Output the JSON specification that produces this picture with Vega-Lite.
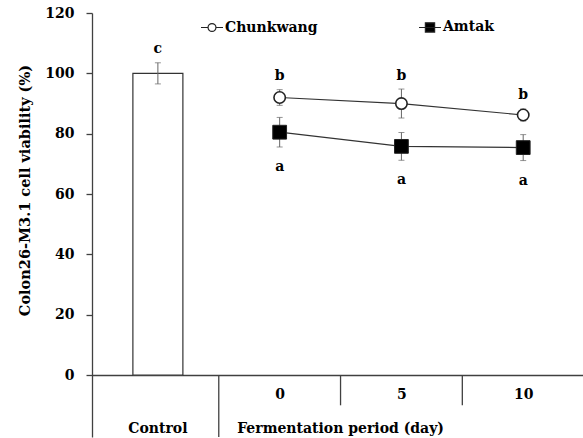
{
  "$schema": "https://vega.github.io/schema/vega-lite/v6.json",
  "width": 491,
  "height": 424,
  "autosize": {"type": "none"},
  "padding": {"left": 92, "top": 13, "right": 0, "bottom": 1},
  "background": "white",
  "config": {
    "view": {"stroke": null},
    "font": "DejaVu Serif",
    "text": {"font": "DejaVu Serif", "fontWeight": "bold", "fontSize": 14, "color": "black"},
    "axis": {
      "labelFont": "DejaVu Serif",
      "labelFontWeight": "bold",
      "labelFontSize": 14,
      "labelColor": "black",
      "titleFont": "DejaVu Serif",
      "titleFontWeight": "bold",
      "titleFontSize": 14.5,
      "titleColor": "black",
      "domainColor": "#404040",
      "domainWidth": 1.3,
      "tickColor": "#404040",
      "tickWidth": 1.3,
      "grid": false
    },
    "legend": {
      "labelFont": "DejaVu Serif",
      "labelFontWeight": "bold",
      "labelFontSize": 14,
      "labelColor": "black"
    }
  },
  "datasets": {
    "main": [
      {"group": "Control", "pos": 0, "mean": 100, "lo": 96.5, "hi": 103.5, "letter": "c"},
      {"group": "Chunkwang", "pos": 1, "mean": 92, "lo": 89.4, "hi": 94.6, "letter": "b"},
      {"group": "Chunkwang", "pos": 2, "mean": 90, "lo": 85.2, "hi": 94.8, "letter": "b"},
      {"group": "Chunkwang", "pos": 3, "mean": 86.2, "lo": 84.2, "hi": 88.2, "letter": "b"},
      {"group": "Amtak", "pos": 1, "mean": 80.5, "lo": 75.6, "hi": 85.4, "letter": "a"},
      {"group": "Amtak", "pos": 2, "mean": 75.8, "lo": 71.2, "hi": 80.4, "letter": "a"},
      {"group": "Amtak", "pos": 3, "mean": 75.4, "lo": 71.1, "hi": 79.7, "letter": "a"}
    ],
    "seps": [
      {"pos": 0.5, "kind": "group"},
      {"pos": 1.5, "kind": "day"},
      {"pos": 2.5, "kind": "day"}
    ],
    "groups": [
      {"label": "Control", "pos": 0},
      {"label": "Fermentation period (day)", "pos": 1.5}
    ]
  },
  "layer": [
    {
      "data": {"name": "main"},
      "transform": [{"filter": "datum.group === 'Control'"}],
      "mark": {"type": "bar", "size": 50, "fill": "white", "stroke": "#333333", "strokeWidth": 1.2},
      "encoding": {
        "x": {
          "field": "pos", "type": "quantitative",
          "scale": {"domain": [-0.5, 3.45], "nice": false, "zero": false},
          "axis": {
            "title": null, "orient": "bottom", "offset": -62,
            "values": [1, 2, 3], "ticks": false, "labelPadding": 12,
            "labelExpr": "datum.value == 1 ? '0' : datum.value == 2 ? '5' : '10'"
          }
        },
        "y": {
          "field": "mean", "type": "quantitative",
          "scale": {"domain": [-20.5, 120], "nice": false, "zero": false},
          "axis": {
            "title": "Colon26-M3.1 cell viability (%)",
            "values": [0, 20, 40, 60, 80, 100, 120],
            "tickSize": 6, "labelPadding": 12,
            "titleX": -67, "titleY": 177, "titleAngle": -90, "titleBaseline": "middle", "titleAlign": "center"
          }
        }
      }
    },
    {
      "data": {"name": "main"},
      "mark": {"type": "rule", "color": "#666666", "strokeWidth": 1},
      "encoding": {
        "x": {"field": "pos", "type": "quantitative"},
        "y": {"field": "lo", "type": "quantitative"},
        "y2": {"field": "hi"}
      }
    },
    {
      "data": {"name": "main"},
      "mark": {"type": "tick", "orient": "horizontal", "size": 6, "thickness": 1, "color": "#666666"},
      "encoding": {
        "x": {"field": "pos", "type": "quantitative"},
        "y": {"field": "lo", "type": "quantitative"}
      }
    },
    {
      "data": {"name": "main"},
      "mark": {"type": "tick", "orient": "horizontal", "size": 6, "thickness": 1, "color": "#666666"},
      "encoding": {
        "x": {"field": "pos", "type": "quantitative"},
        "y": {"field": "hi", "type": "quantitative"}
      }
    },
    {
      "data": {"name": "main"},
      "transform": [{"filter": "datum.group !== 'Control'"}],
      "mark": {"type": "line", "color": "#333333", "strokeWidth": 1.2},
      "encoding": {
        "x": {"field": "pos", "type": "quantitative"},
        "y": {"field": "mean", "type": "quantitative"},
        "detail": {"field": "group"}
      }
    },
    {
      "data": {"name": "main"},
      "transform": [{"filter": "datum.group === 'Chunkwang'"}],
      "mark": {"type": "point", "shape": "circle", "size": 130, "filled": true, "fill": "white", "stroke": "#222222", "strokeWidth": 1.6, "opacity": 1},
      "encoding": {
        "x": {"field": "pos", "type": "quantitative"},
        "y": {"field": "mean", "type": "quantitative"}
      }
    },
    {
      "data": {"name": "main"},
      "transform": [{"filter": "datum.group === 'Amtak'"}],
      "mark": {"type": "point", "shape": "square", "size": 190, "filled": true, "fill": "black", "stroke": "#222222", "strokeWidth": 1, "opacity": 1},
      "encoding": {
        "x": {"field": "pos", "type": "quantitative"},
        "y": {"field": "mean", "type": "quantitative"}
      }
    },
    {
      "data": {"name": "main"},
      "transform": [{"filter": "datum.group !== 'Amtak'"}],
      "mark": {"type": "text", "baseline": "alphabetic", "align": "center", "dy": -9.5},
      "encoding": {
        "x": {"field": "pos", "type": "quantitative"},
        "y": {"field": "hi", "type": "quantitative"},
        "text": {"field": "letter"}
      }
    },
    {
      "data": {"name": "main"},
      "transform": [{"filter": "datum.group === 'Amtak'"}],
      "mark": {"type": "text", "baseline": "alphabetic", "align": "center", "dy": 24},
      "encoding": {
        "x": {"field": "pos", "type": "quantitative"},
        "y": {"field": "lo", "type": "quantitative"},
        "text": {"field": "letter"}
      }
    },
    {
      "data": {"name": "seps"},
      "transform": [{"filter": "datum.kind === 'group'"}],
      "mark": {"type": "rule", "color": "#404040", "strokeWidth": 1.3},
      "encoding": {
        "x": {"field": "pos", "type": "quantitative"},
        "y": {"datum": 0, "type": "quantitative"},
        "y2": {"datum": -20.5}
      }
    },
    {
      "data": {"name": "seps"},
      "transform": [{"filter": "datum.kind === 'day'"}],
      "mark": {"type": "rule", "color": "#404040", "strokeWidth": 1.3},
      "encoding": {
        "x": {"field": "pos", "type": "quantitative"},
        "y": {"datum": 0, "type": "quantitative"},
        "y2": {"datum": -10}
      }
    },
    {
      "data": {"name": "groups"},
      "mark": {"type": "text", "baseline": "alphabetic", "align": "center"},
      "encoding": {
        "x": {"field": "pos", "type": "quantitative"},
        "y": {"datum": -19.2, "type": "quantitative"},
        "text": {"field": "label"}
      }
    },
    {
      "data": {"name": "main"},
      "transform": [{"filter": "datum.group !== 'Control'"}],
      "mark": {"type": "point", "filled": true, "opacity": 0, "size": 484},
      "encoding": {
        "x": {"field": "pos", "type": "quantitative"},
        "y": {"field": "mean", "type": "quantitative"},
        "shape": {
          "field": "group", "type": "nominal",
          "scale": {
            "domain": ["Chunkwang", "Amtak"],
            "range": [
              "M-1,0H-0.36M0.36,0H1M0.36,0A0.36,0.36 0 1,1 -0.36,0A0.36,0.36 0 1,1 0.36,0Z",
              "M-1,0H1M-0.42,-0.42H0.42V0.42H-0.42Z"
            ]
          },
          "legend": {
            "title": null, "orient": "none", "legendX": 108, "legendY": 2,
            "direction": "horizontal", "padding": 0, "columnPadding": 98,
            "labelOffset": 1, "symbolSize": 484,
            "encode": {"symbols": {"update": {"stroke": {"value": "#222222"}, "strokeWidth": {"value": 1.2}, "opacity": {"value": 1}, "strokeOpacity": {"value": 1}, "fillOpacity": {"value": 1}}}}
          }
        },
        "color": {
          "field": "group", "type": "nominal",
          "scale": {"domain": ["Chunkwang", "Amtak"], "range": ["white", "black"]},
          "legend": {
            "title": null, "orient": "none", "legendX": 108, "legendY": 2,
            "direction": "horizontal", "padding": 0, "columnPadding": 98,
            "labelOffset": 1, "symbolSize": 484,
            "encode": {"symbols": {"update": {"stroke": {"value": "#222222"}, "strokeWidth": {"value": 1.2}, "opacity": {"value": 1}, "strokeOpacity": {"value": 1}, "fillOpacity": {"value": 1}}}}
          }
        }
      }
    }
  ]
}
